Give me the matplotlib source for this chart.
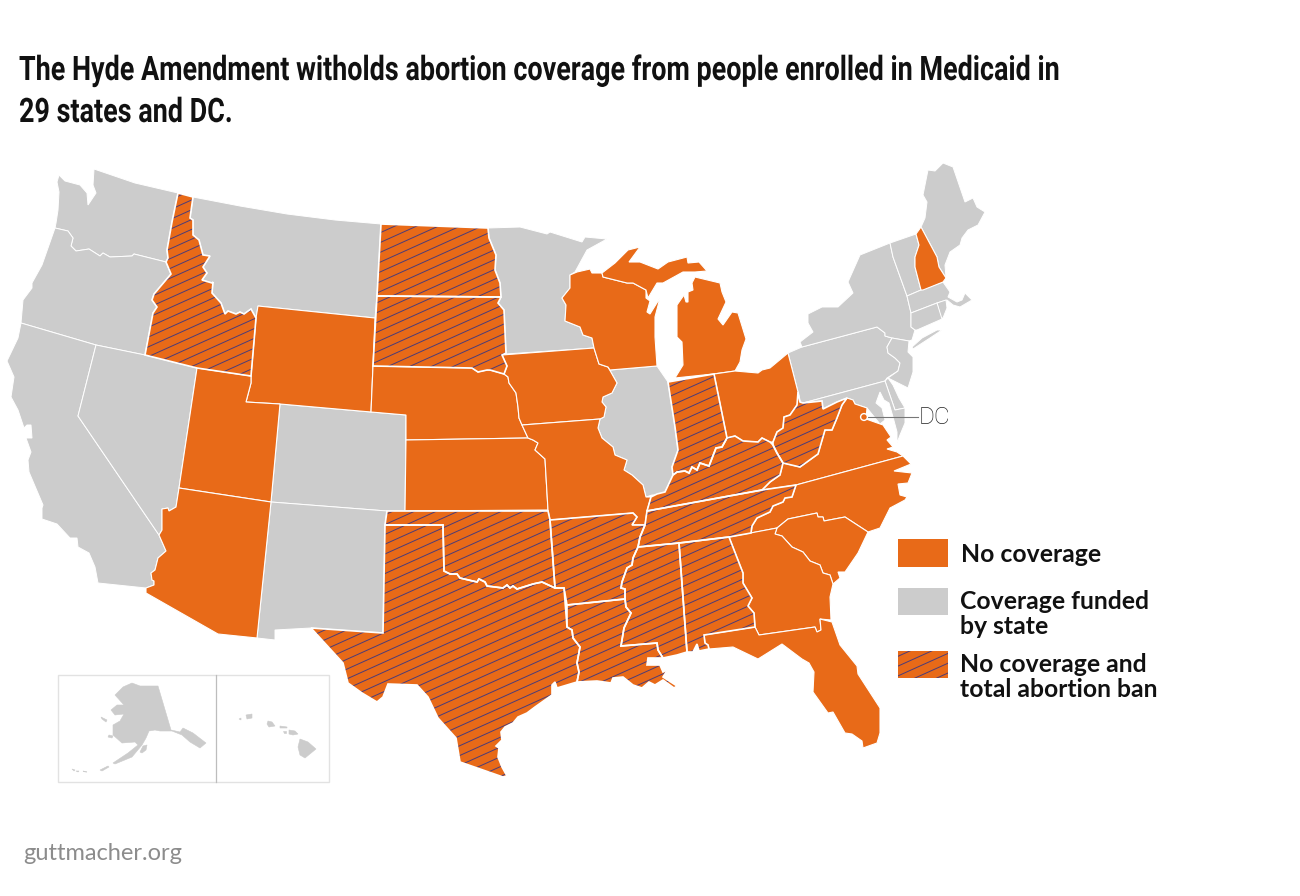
#!/usr/bin/env python3
import matplotlib
matplotlib.use("Agg")
import matplotlib.pyplot as plt
import numpy as np
from matplotlib.collections import LineCollection
from matplotlib.patches import Circle, PathPatch, Polygon, Rectangle
from matplotlib.path import Path
from matplotlib.patheffects import AbstractPathEffect
from matplotlib.transforms import Affine2D

ORANGE = "#E86A18"
GRAY = "#CCCCCC"
HATCH = "#4B3B78"

TITLE_LINES = ["The Hyde Amendment witholds abortion coverage from people enrolled in Medicaid in",
               "29 states and DC."]
LEGEND_LABELS = ["No coverage", "Coverage funded\nby state", "No coverage and\ntotal abortion ban"]
SOURCE = "guttmacher.org"

# state outlines
WA = [(94,169),(135,183),(178,193),(172,222),(167,250),(168,258),(166,262),(134,254),(132,256),(110,257),(103,253),(100,256),(89,249),(76,251),(71,246),(73,238),(68,231),(55,228),(56,223),(58,210),(59,192),(57,182),(59,175),(65,181),(80,185),(87,193),(88,205),(96,193),(93,185)]
OR = [(55,228),(68,231),(73,238),(71,246),(76,251),(89,249),(100,256),(103,253),(110,257),(132,256),(134,254),(166,262),(171,274),(154,294),(152,300),(157,307),(153,313),(145,355),(96,345),(21,323),(23,300),(32,288),(32,283),(42,265)]
CA = [(21,323),(96,345),(78,416),(159,535),(166,551),(158,558),(155,570),(151,573),(152,580),(154,581),(154,585),(146,588),(98,583),(95,567),(89,553),(78,547),(77,538),(70,538),(57,524),(42,519),(42,508),(43,505),(29,472),(28,460),(31,452),(26,438),(32,438),(31,425),(27,425),(24,428),(18,410),(11,397),(14,377),(7,361),(18,338)]
NV = [(96,345),(145,355),(197,368),(179,488),(176,507),(169,511),(168,508),(162,509),(162,530),(159,535),(78,416)]
ID = [(178,193),(193,197),(190,218),(193,220),(193,235),(199,240),(203,255),(210,256),(203,267),(207,273),(202,280),(212,283),(213,282),(212,293),(221,303),(225,314),(228,311),(236,314),(240,312),(244,314),(251,309),(256,318),(251,376),(197,368),(145,355),(153,313),(157,307),(152,300),(154,294),(171,274),(166,262),(168,258),(167,250),(172,222)]
MT = [(193,197),(240,206),(287,214),(335,220),(381,224),(377,296),(375,318),(258,306),(256,318),(251,309),(244,314),(240,312),(236,314),(228,311),(225,314),(221,303),(212,293),(213,282),(212,283),(202,280),(207,273),(203,267),(210,256),(203,255),(199,240),(193,235),(193,220),(190,218)]
WY = [(258,306),(375,318),(371,412),(280,404),(246,402),(251,383),(251,376),(256,318)]
UT = [(197,368),(251,376),(251,383),(246,402),(280,404),(271,502),(179,488)]
CO = [(280,404),(371,412),(406,415),(405,511),(387,511),(271,502)]
AZ = [(179,488),(271,502),(257,638),(218,634),(146,593),(146,588),(154,585),(154,581),(152,580),(151,573),(155,570),(158,558),(166,551),(159,535),(162,530),(162,509),(168,508),(169,511),(176,507)]
NM = [(271,502),(387,511),(385,525),(383,633),(311,628),(275,630),(275,640),(257,638)]
ND = [(381,224),(488,228),(489,238),(496,255),(495,270),(500,283),(501,297),(377,296)]
SD = [(377,296),(501,297),(498,303),(504,310),(506,353),(502,355),(507,366),(504,374),(490,370),(487,370),(478,372),(472,368),(373,366)]
NE = [(373,366),(472,368),(478,372),(487,370),(490,370),(504,374),(508,377),(509,383),(516,393),(518,407),(519,418),(522,425),(528,438),(406,440),(406,415),(371,412)]
KS = [(406,440),(528,438),(533,440),(538,443),(535,450),(545,459),(548,510),(405,511)]
OK = [(387,511),(548,511),(550,520),(555,588),(542,582),(533,584),(517,589),(513,586),(510,588),(507,585),(503,588),(487,586),(485,582),(479,579),(477,582),(460,578),(457,574),(450,574),(444,571),(443,525),(385,525)]
TX = [(385,525),(443,525),(444,571),(450,574),(457,574),(460,578),(477,582),(479,579),(485,582),(487,586),(503,588),(507,585),(510,588),(513,586),(517,589),(533,584),(542,582),(555,588),(564,588),(567,627),(572,630),(573,638),(580,647),(577,663),(579,672),(577,682),(557,688),(555,682),(552,685),(552,695),(535,707),(527,713),(518,717),(513,723),(505,727),(501,732),(502,740),(496,746),(499,748),(498,757),(502,767),(507,776),(503,777),(460,762),(456,738),(438,718),(428,697),(417,685),(388,684),(383,697),(377,702),(362,693),(348,683),(343,663),(311,628),(383,633)]
MN = [(488,228),(520,227),(547,234),(550,232),(582,242),(585,237),(607,239),(587,250),(575,272),(570,275),(570,288),(562,298),(566,305),(565,321),(580,327),(583,335),(592,338),(594,348),(506,354),(504,310),(498,303),(501,297),(500,283),(495,270),(496,255),(489,238)]
IA = [(502,355),(594,348),(599,364),(608,367),(617,383),(612,393),(603,397),(602,402),(606,407),(604,417),(600,419),(522,425),(519,418),(518,407),(516,393),(509,383),(508,377),(504,374),(507,366)]
MO = [(522,425),(600,419),(598,428),(602,438),(613,447),(615,455),(627,460),(624,470),(632,475),(643,485),(646,497),(651,497),(647,511),(645,525),(632,525),(637,517),(633,513),(550,520),(548,510),(545,459),(535,450),(538,443),(533,440),(528,438)]
AR = [(550,520),(633,513),(637,517),(632,525),(645,525),(640,537),(638,547),(633,558),(632,565),(627,568),(622,582),(621,588),(625,589),(625,599),(567,605),(564,588),(555,588)]
LA = [(567,605),(625,599),(626,607),(631,613),(624,628),(621,646),(657,643),(658,650),(663,658),(648,658),(647,665),(660,665),(663,672),(668,669),(663,677),(677,686),(674,688),(663,680),(655,685),(649,682),(642,688),(633,685),(623,677),(613,678),(611,683),(597,681),(577,682),(579,672),(577,663),(580,647),(573,638),(572,630),(567,627)]
MS = [(638,547),(679,543),(687,652),(677,655),(663,658),(658,650),(657,643),(621,646),(624,628),(631,613),(626,607),(625,599),(625,589),(621,588),(622,582),(627,568),(632,565),(633,558)]
AL = [(679,543),(729,537),(743,573),(743,583),(752,598),(748,606),(754,613),(755,627),(704,635),(705,643),(708,645),(709,649),(699,651),(697,644),(693,652),(687,652)]
GA = [(729,537),(777,528),(775,534),(782,536),(792,547),(803,552),(810,561),(820,565),(823,573),(830,575),(833,584),(830,597),(831,620),(820,619),(821,630),(817,632),(815,627),(759,635),(755,627),(754,613),(748,606),(752,598),(743,583),(743,573)]
FL = [(704,635),(755,627),(759,635),(815,627),(817,632),(821,630),(820,619),(832,622),(840,645),(857,666),(858,674),(880,708),(880,733),(877,743),(863,748),(862,741),(852,734),(845,733),(833,712),(828,713),(813,692),(814,672),(809,663),(802,659),(782,644),(758,659),(733,647),(709,649),(708,645),(705,643)]
SC = [(777,528),(788,519),(817,513),(818,517),(823,517),(824,521),(845,517),(868,532),(858,553),(845,572),(838,572),(840,578),(833,584),(830,575),(823,573),(820,565),(810,561),(803,552),(792,547),(782,536),(775,534)]
NC = [(796,485),(903,456),(911,464),(894,471),(912,473),(908,483),(898,484),(900,495),(907,497),(905,500),(890,508),(880,528),(868,532),(845,517),(824,521),(823,517),(818,517),(817,513),(788,519),(777,528),(751,533),(752,526),(757,518),(770,512),(773,506),(783,502),(785,498),(792,497)]
TN = [(647,511),(762,490),(796,485),(792,497),(785,498),(783,502),(773,506),(770,512),(757,518),(752,526),(751,533),(729,537),(679,543),(638,547),(640,537),(645,525)]
KY = [(651,497),(657,494),(665,492),(673,475),(677,472),(685,471),(689,473),(692,467),(697,470),(700,463),(709,466),(716,448),(722,447),(727,438),(735,436),(743,441),(758,442),(762,438),(770,442),(773,445),(777,453),(783,463),(780,475),(770,482),(762,490),(647,511)]
VA = [(783,463),(800,467),(818,454),(825,430),(832,430),(837,418),(842,405),(847,398),(853,400),(855,404),(867,408),(866,419),(883,425),(891,437),(887,440),(893,447),(887,449),(897,452),(903,456),(796,485),(762,490),(770,482),(780,475)]
WV = [(798,392),(797,405),(790,415),(784,417),(783,428),(777,432),(773,442),(773,445),(777,453),(783,463),(800,467),(818,454),(825,430),(832,430),(837,418),(842,405),(847,398),(837,402),(823,409),(822,401),(803,403),(800,402)]
OH = [(714,374),(735,371),(758,373),(762,370),(770,368),(788,353),(798,392),(800,402),(797,405),(790,415),(784,417),(783,428),(777,432),(773,442),(770,442),(762,438),(758,442),(743,441),(735,436),(727,438)]
IN = [(668,382),(714,374),(727,438),(722,447),(716,448),(709,466),(700,463),(697,470),(692,467),(689,473),(685,471),(677,472),(673,475),(672,467),(678,450),(675,427)]
IL = [(610,370),(657,366),(668,382),(675,427),(678,450),(672,467),(673,475),(665,492),(658,495),(652,495),(646,497),(643,485),(632,475),(624,470),(627,460),(615,455),(613,447),(602,438),(598,428),(600,419),(604,417),(606,407),(602,402),(603,397),(612,393),(617,383),(608,367)]
WI = [(570,275),(577,272),(590,269),(592,273),(602,273),(603,277),(627,283),(633,283),(646,290),(646,298),(650,301),(647,312),(650,314),(660,298),(655,317),(655,337),(657,366),(610,370),(608,367),(599,364),(594,348),(592,338),(583,335),(580,327),(565,321),(566,305),(562,298),(570,288)]
MI_UPPER = [(602,273),(615,263),(628,250),(640,247),(629,262),(640,262),(658,269),(668,262),(687,257),(688,263),(699,262),(707,271),(695,272),(683,272),(663,283),(657,283),(648,298),(646,290),(633,283),(627,283),(603,277)]
MI_LOWER = [(695,277),(720,283),(722,292),(726,302),(718,319),(723,325),(732,312),(738,313),(746,339),(742,350),(740,362),(735,371),(713,374),(675,378),(683,365),(682,342),(677,337),(677,305),(684,295),(686,302),(688,302),(688,292),(693,290),(692,283)]
PA = [(788,353),(802,347),(877,327),(885,333),(885,336),(892,338),(887,347),(888,353),(895,358),(900,363),(898,371),(887,378),(885,381),(803,403),(800,402),(798,392)]
NY = [(800,342),(813,332),(808,323),(808,314),(822,307),(838,307),(853,293),(848,282),(860,255),(890,243),(893,257),(907,296),(911,313),(911,327),(915,330),(912,340),(909,341),(892,338),(885,336),(885,333),(877,327),(802,347)]
LONG_ISLAND = [(912,347),(922,338),(937,330),(942,330),(930,338),(913,349)]
NJ = [(892,338),(909,341),(908,352),(913,357),(913,372),(908,388),(888,378),(898,371),(900,363),(895,358),(888,353),(887,347)]
DE = [(885,381),(888,378),(893,385),(899,398),(905,408),(895,410)]
MD = [(803,403),(885,381),(895,410),(905,408),(905,423),(900,435),(897,443),(897,432),(893,417),(889,403),(884,400),(880,392),(876,403),(882,408),(885,420),(880,424),(867,408),(855,404),(853,400),(847,398),(837,402),(823,409),(822,401)]
VT = [(890,243),(916,234),(919,245),(915,257),(915,267),(921,290),(907,296),(893,257)]
NH = [(916,234),(921,227),(937,257),(939,267),(946,278),(943,282),(923,290),(921,290),(915,267),(915,257),(919,245)]
ME = [(921,227),(925,218),(927,202),(923,195),(928,170),(935,171),(943,163),(953,167),(965,202),(973,198),(977,207),(985,212),(978,225),(968,230),(962,238),(960,245),(950,252),(945,265),(946,278),(939,267),(937,257)]
MA = [(907,296),(921,290),(943,282),(950,292),(948,297),(957,302),(962,300),(965,293),(972,300),(960,307),(953,305),(947,300),(937,303),(911,313)]
RI = [(937,303),(946,300),(947,308),(943,318),(941,318)]
CT = [(911,313),(937,303),(942,319),(917,330),(915,330),(911,327)]

AK_MAIN = [(132,683),(140,686),(158,686),(171,730),(180,732),(183,728),(193,733),(206,743),(200,748),(190,742),(182,735),(172,731),(160,731),(155,730),(149,731),(146,738),(142,745),(132,757),(115,764),(113,763),(128,753),(138,745),(135,742),(122,743),(113,735),(113,725),(120,721),(124,714),(115,715),(111,710),(117,705),(124,705),(115,695),(123,687)]
AK_KODIAK = [(140,752),(143,746),(147,745),(146,750),(142,753)]
AK_ST_LAWRENCE = [(101,717),(107,720),(106,722),(102,719)]
AK_NUNIVAK = [(109,735),(113,736),(112,738),(108,737)]
AK_PENINSULA_TIP = [(100,770),(108,766),(109,767),(102,771)]
AK_ALEUTIAN_1 = [(72,769),(75,770),(74,771)]
AK_ALEUTIAN_2 = [(76,771),(79,771),(78,772)]
AK_ALEUTIAN_3 = [(83,771),(87,772),(85,772)]
HI_BIG = [(300,739),(308,742),(316,749),(305,758),(300,755),(298,747)]
HI_MAUI = [(289,730),(295,731),(298,734),(293,735),(289,734)]
HI_MOLOKAI = [(280,726),(287,727),(287,728),(280,728)]
HI_OAHU = [(268,721),(272,722),(275,726),(269,727),(267,724)]
HI_KAUAI = [(246,715),(252,714),(252,718),(247,719)]
HI_LANAI = [(283,731),(286,731),(286,733),(284,733)]
HI_NIIHAU = [(239,719),(241,718),(241,720)]

COVERED = [WA, OR, CA, NV, MT, CO, NM, MN, IL, PA, NY, LONG_ISLAND, NJ, DE, MD, VT, ME, MA, RI, CT]
NO_COVERAGE = [WY, UT, AZ, NE, KS, IA, MO, WI, MI_UPPER, MI_LOWER, OH, VA, NC, SC, GA, FL, NH]
BANNED = [ID, ND, SD, OK, TX, AR, LA, MS, AL, TN, KY, WV, IN]
INSETS = [AK_MAIN, AK_KODIAK, AK_ST_LAWRENCE, AK_NUNIVAK, AK_PENINSULA_TIP, AK_ALEUTIAN_1, AK_ALEUTIAN_2, AK_ALEUTIAN_3,
          HI_BIG, HI_MAUI, HI_MOLOKAI, HI_OAHU, HI_KAUAI, HI_LANAI, HI_NIIHAU]


class TallText(AbstractPathEffect):
    # no condensed font installed, so a smaller one is stretched upward from its baseline
    def __init__(self, factor):
        super().__init__()
        self.factor = factor

    def draw_path(self, renderer, gc, tpath, affine, rgbFace=None):
        renderer.draw_path(gc, tpath, Affine2D().scale(1, self.factor) + affine, rgbFace)


def polygons_path(polys):
    verts, codes = [], []
    for poly in polys:
        verts += list(poly) + [poly[0]]
        codes += [Path.MOVETO] + [Path.LINETO] * (len(poly) - 1) + [Path.CLOSEPOLY]
    return Path(verts, codes)


def draw_hatch(ax, clip):
    # thin rising lines, clipped to the given patch
    slope = -0.45
    offsets = np.arange(100, 1500, 9.8)
    segs = [[(0, c), (1300, c + slope * 1300)] for c in offsets]
    lines = LineCollection(segs, colors=HATCH, linewidths=0.7, zorder=clip.get_zorder() + 0.1)
    ax.add_collection(lines)
    lines.set_clip_path(clip)


def add_title(fig, ax):
    title_font = dict(family="Roboto", fontsize=20, weight="bold", color="#111111", ha="left", va="baseline")
    first = ax.text(19, 80, TITLE_LINES[0], **title_font)
    second = ax.text(19, 122, TITLE_LINES[1], **title_font)
    width = first.get_window_extent(fig.canvas.get_renderer()).width
    size = 20 * 1038 / width
    factor = 24 / (0.711 * size * 100 / 72)
    for t in (first, second):
        t.set_fontsize(size)
        t.set_path_effects([TallText(factor)])


def main():
    fig = plt.figure(figsize=(13, 8.96), dpi=100)
    ax = fig.add_axes([0, 0, 1, 1])
    ax.set_xlim(0, 1300)
    ax.set_ylim(896, 0)
    ax.axis("off")

    for poly in COVERED:
        ax.add_patch(Polygon(poly, closed=True, facecolor=GRAY, edgecolor="white", linewidth=0.7, zorder=2))
    for poly in NO_COVERAGE:
        ax.add_patch(Polygon(poly, closed=True, facecolor=ORANGE, edgecolor="white", linewidth=0.8, zorder=3))

    ban_fill = PathPatch(polygons_path(BANNED), facecolor=ORANGE, edgecolor="none", zorder=4)
    ax.add_patch(ban_fill)
    draw_hatch(ax, ban_fill)
    for poly in BANNED:
        ax.add_patch(Polygon(poly, closed=True, facecolor="none", edgecolor="white", linewidth=1.2, zorder=5))

    # DC marker
    ax.plot([868, 918], [417, 417], color="#777777", linewidth=0.8, zorder=6)
    ax.add_patch(Circle((864, 417), 3.4, facecolor=ORANGE, edgecolor="white", linewidth=1.0, zorder=7))
    ax.text(919, 418, "DC", family="Roboto", fontsize=17.5, weight="light", color="#222222", ha="left", va="center")

    # Alaska / Hawaii box
    ax.add_patch(Rectangle((58, 675), 271, 107, facecolor="white", edgecolor="#E2E2E2", linewidth=1.0, zorder=1))
    ax.plot([216, 216], [675, 782], color="#BDBDBD", linewidth=0.9, zorder=2)
    for poly in INSETS:
        ax.add_patch(Polygon(poly, closed=True, facecolor=GRAY, edgecolor=GRAY, linewidth=0.4, zorder=3))

    # legend
    ax.add_patch(Rectangle((898, 539), 50, 28, facecolor=ORANGE, edgecolor="none"))
    ax.add_patch(Rectangle((898, 588), 50, 27, facecolor=GRAY, edgecolor="none"))
    swatch = Rectangle((898, 651), 50, 27, facecolor=ORANGE, edgecolor="none", zorder=4)
    ax.add_patch(swatch)
    draw_hatch(ax, swatch)
    label_font = dict(family="Lato", fontsize=17.8, weight="bold", color="#111111", ha="left", va="center", linespacing=1.08)
    ax.text(961, 554, LEGEND_LABELS[0], **label_font)
    ax.text(960, 614, LEGEND_LABELS[1], **label_font)
    ax.text(960, 677, LEGEND_LABELS[2], **label_font)

    add_title(fig, ax)
    ax.text(23, 853, SOURCE, family="Lato", fontsize=17, color="#8C8C8C", ha="left", va="center")

    fig.savefig("out.png", dpi=100)
    plt.close(fig)


if __name__ == "__main__":
    main()
